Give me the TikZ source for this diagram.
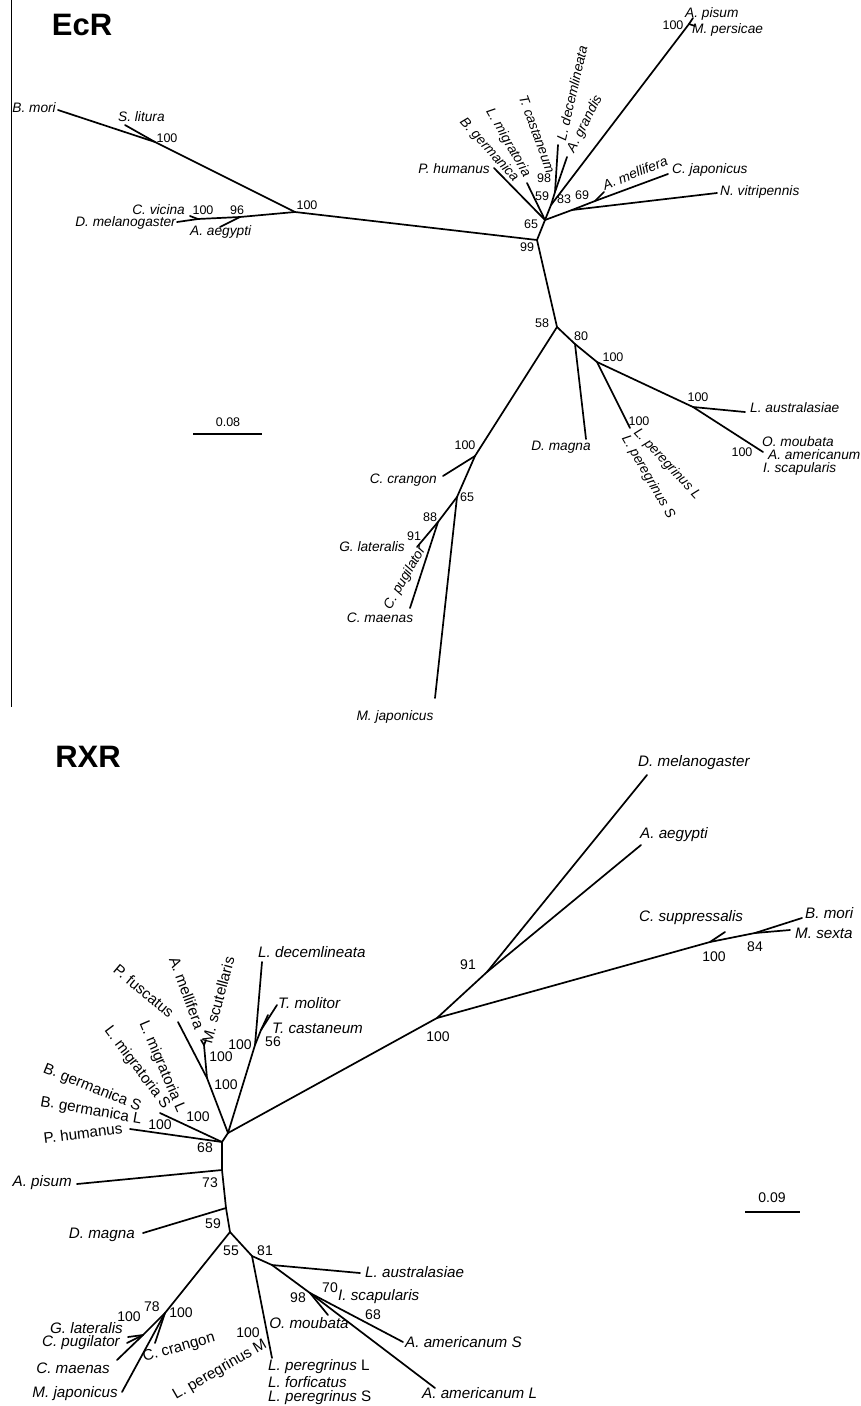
\documentclass[tikz,border=0pt]{standalone}
\usepackage{fontspec}
\setmainfont{Liberation Sans}
\newcommand\TopSp{\fontsize{13.7}{15}\selectfont\itshape}
\newcommand\TopNum{\fontsize{12.5}{14}\selectfont}
\newcommand\BotSp{\fontsize{15.2}{17}\selectfont\itshape}
\newcommand\BotUp{\fontsize{15.2}{17}\selectfont}
\newcommand\BotNum{\fontsize{14}{16}\selectfont}
\newcommand\TtlFont{\fontsize{31}{34}\selectfont\bfseries}
\begin{document}
\begin{tikzpicture}[x=1pt,y=-1pt,
 br/.style={line width=1.7pt,line cap=round,line join=round},
 thin/.style={line width=1.3pt},
 ts/.style={font=\TopSp,inner sep=0pt},
 tn/.style={font=\TopNum,inner sep=0pt},
 bs/.style={font=\BotSp,inner sep=0pt},
 bu/.style={font=\BotUp,inner sep=0pt},
 bn/.style={font=\BotNum,inner sep=0pt},
 ttl/.style={font=\TtlFont,inner sep=0pt}]
\useasboundingbox[fill=white] (0,0) rectangle (861,1406);
% left rule
\coordinate (vt) at (11.5,0);
\coordinate (vb) at (11.5,707);
\draw[thin] (vt) -- (vb);
% ================= EcR =================
\coordinate (eA100) at (295,212);
\coordinate (eBmori) at (58,110);
\coordinate (eS100) at (155,142);
\coordinate (eSlit) at (125,125);
\coordinate (eD96) at (240,217);
\coordinate (eAaeg) at (220,227);
\coordinate (eC100) at (198,219);
\coordinate (eDmel) at (177,222);
\coordinate (eCvic) at (190,216);
\coordinate (eN99) at (537,240);
\coordinate (eN65) at (545,220);
\coordinate (ePhum) at (494,168);
\coordinate (eLmig) at (527,183);
\coordinate (eN83) at (551,205);
\coordinate (eN98) at (555,192);
\coordinate (eLdec) at (558,145);
\coordinate (eAgra) at (567,157);
\coordinate (eApN) at (689,24);
\coordinate (eApis) at (693,18);
\coordinate (eMper) at (695,26);
\coordinate (eNH) at (572,210);
\coordinate (eNvit) at (717,193);
\coordinate (eN69) at (595,201);
\coordinate (eCjap) at (668,174);
\coordinate (eAmel) at (604,192);
\coordinate (eN58) at (557,327);
\coordinate (eN80) at (575,344);
\coordinate (eDmag) at (586,439);
\coordinate (eN100b) at (597,362);
\coordinate (eLper) at (630,428);
\coordinate (eN100c) at (693,407);
\coordinate (eLaus) at (745,412);
\coordinate (eOmou) at (763,452);
\coordinate (eN100d) at (475,456);
\coordinate (eCcra) at (443,476);
\coordinate (eN65b) at (457,497);
\coordinate (eMjap) at (435,698);
\coordinate (eN88) at (438,522);
\coordinate (eGlat) at (417,547);
\coordinate (eCmae) at (410,608);
\draw[br] (eA100) -- (eS100) -- (eBmori);
\draw[br] (eS100) -- (eSlit);
\draw[br] (eA100) -- (eD96) -- (eC100) -- (eDmel);
\draw[br] (eC100) -- (eCvic);
\draw[br] (eD96) -- (eAaeg);
\draw[br] (eA100) -- (eN99) -- (eN65) -- (ePhum);
\draw[br] (eN65) -- (eLmig);
\draw[br] (eN65) -- (eN83) -- (eN98) -- (eLdec);
\draw[br] (eN98) -- (eAgra);
\draw[br] (eN83) -- (eApN) -- (eApis);
\draw[br] (eApN) -- (eMper);
\draw[br] (eN65) -- (eNH) -- (eNvit);
\draw[br] (eNH) -- (eN69) -- (eCjap);
\draw[br] (eN69) -- (eAmel);
\draw[br] (eN99) -- (eN58) -- (eN80) -- (eDmag);
\draw[br] (eN80) -- (eN100b) -- (eLper);
\draw[br] (eN100b) -- (eN100c) -- (eLaus);
\draw[br] (eN100c) -- (eOmou);
\draw[br] (eN58) -- (eN100d) -- (eCcra);
\draw[br] (eN100d) -- (eN65b) -- (eMjap);
\draw[br] (eN65b) -- (eN88) -- (eGlat);
\draw[br] (eN88) -- (eCmae);
\coordinate (esA) at (193,434);
\coordinate (esB) at (262,434);
\draw[thin] (esA) -- (esB);
\node[ttl] (tEcR) at (82,25) {EcR};
\node[ts,anchor=east] (lBmori) at (56,108) {B. mori};
\node[ts,anchor=west] (lSlit) at (118,117) {S. litura};
\node[tn] (nS100) at (167,138) {100};
\node[ts,anchor=east] (lCvic) at (185,210) {C. vicina};
\node[tn] (nC100) at (203,210) {100};
\node[tn] (nD96) at (237,210) {96};
\node[ts,anchor=east] (lDmel) at (176,223) {D. melanogaster};
\node[ts,anchor=west] (lAaeg) at (190,232) {A. aegypti};
\node[tn] (nA100) at (307,205) {100};
\node[ts,anchor=east] (lPhum) at (490,169) {P. humanus};
\node[ts,rotate=-48] (lBger) at (489,150) {B. germanica};
\node[ts,rotate=-60] (lLmig) at (508,143) {L. migratoria};
\node[ts,rotate=-70] (lTcas) at (537,134) {T. castaneum};
\node[ts,rotate=77] (lLdec) at (572,93) {L. decemlineata};
\node[ts,rotate=63] (lAgra) at (585,124) {A. grandis};
\node[tn] (n98) at (544,178) {98};
\node[tn] (n59) at (542,196) {59};
\node[tn] (n83) at (564,199) {83};
\node[tn] (n69) at (582,195) {69};
\node[tn] (n65) at (531,224) {65};
\node[tn] (n99) at (527,247) {99};
\node[ts,rotate=22] (lAmel) at (635,173) {A. mellifera};
\node[ts,anchor=west] (lCjap) at (672,170) {C. japonicus};
\node[ts,anchor=west] (lNvit) at (720,192) {N. vitripennis};
\node[ts,anchor=west] (lApis) at (685,14) {A. pisum};
\node[ts,anchor=west] (lMper) at (692,30) {M. persicae};
\node[tn] (nAp100) at (673,25) {100};
\node[tn] (n58) at (542,323) {58};
\node[tn] (n80) at (581,336) {80};
\node[tn] (nb100) at (613,357) {100};
\node[tn] (nLp100) at (639,421) {100};
\node[ts,rotate=-47] (lLperL) at (667,464) {L. peregrinus L};
\node[ts,rotate=-60] (lLperS) at (648,477) {L. peregrinus S};
\node[tn] (nc100) at (698,397) {100};
\node[ts,anchor=west] (lLaus) at (750,408) {L. australasiae};
\node[tn] (nO100) at (742,452) {100};
\node[ts,anchor=west] (lOmou) at (762,442) {O. moubata};
\node[ts,anchor=west] (lAame) at (768,455) {A. americanum};
\node[ts,anchor=west] (lIsca) at (763,469) {I. scapularis};
\node[ts] (lDmag) at (561,447) {D. magna};
\node[tn] (nd100) at (465,445) {100};
\node[ts,anchor=east] (lCcra) at (437,480) {C. crangon};
\node[tn] (n65b) at (467,497) {65};
\node[tn] (n88) at (430,517) {88};
\node[tn] (n91) at (414,536) {91};
\node[ts,anchor=east] (lGlat) at (405,547) {G. lateralis};
\node[ts,rotate=60] (lCpug) at (405,578) {C. pugilator};
\node[ts] (lCmae) at (380,618) {C. maenas};
\node[ts] (lMjap) at (395,717) {M. japonicus};
\node[tn] (sc1) at (228,422) {0.08};
% ================= RXR =================
\coordinate (R0) at (228,1133);
\coordinate (Rm) at (437,1018);
\coordinate (R91) at (487,972);
\coordinate (RDmel) at (647,775);
\coordinate (RAaeg) at (641,845);
\coordinate (Rcs) at (710,942);
\coordinate (RCsup) at (725,932);
\coordinate (R84) at (755,933);
\coordinate (RBmori) at (802,918);
\coordinate (RMsex) at (790,930);
\coordinate (Rcol) at (255,1045);
\coordinate (RLdec) at (262,962);
\coordinate (R56) at (261,1030);
\coordinate (RTmol) at (277,1005);
\coordinate (RTcas) at (268,1015);
\coordinate (Rhy) at (207,1078);
\coordinate (RPfus) at (178,1022);
\coordinate (Ram) at (204,1045);
\coordinate (RAmel) at (201,1040);
\coordinate (RMscu) at (206,1040);
\coordinate (R68) at (222,1142);
\coordinate (RLmig) at (160,1113);
\coordinate (RPhum) at (130,1129);
\coordinate (R73) at (222,1170);
\coordinate (RApis) at (77,1184);
\coordinate (R59) at (226,1208);
\coordinate (RDmag) at (143,1233);
\coordinate (R55) at (230,1232);
\coordinate (RX) at (165,1313);
\coordinate (RMjap) at (122,1392);
\coordinate (RCcra) at (155,1343);
\coordinate (RGC) at (143,1335);
\coordinate (RCmae) at (117,1360);
\coordinate (RGlat) at (128,1337);
\coordinate (RCpug) at (127,1343);
\coordinate (R81) at (252,1256);
\coordinate (RLper) at (272,1358);
\coordinate (RLa) at (272,1265);
\coordinate (RLaus) at (360,1273);
\coordinate (R98) at (310,1293);
\coordinate (ROmou) at (328,1315);
\coordinate (RAamS) at (403,1342);
\coordinate (RAamL) at (435,1388);
\draw[br] (R0) -- (Rm) -- (R91) -- (RDmel);
\draw[br] (R91) -- (RAaeg);
\draw[br] (Rm) -- (Rcs) -- (R84) -- (RBmori);
\draw[br] (Rcs) -- (RCsup);
\draw[br] (R84) -- (RMsex);
\draw[br] (R0) -- (Rcol) -- (RLdec);
\draw[br] (Rcol) -- (R56) -- (RTmol);
\draw[br] (R56) -- (RTcas);
\draw[br] (R0) -- (Rhy) -- (RPfus);
\draw[br] (Rhy) -- (Ram) -- (RAmel);
\draw[br] (Ram) -- (RMscu);
\draw[br] (R0) -- (R68) -- (RLmig);
\draw[br] (R68) -- (RPhum);
\draw[br] (R68) -- (R73) -- (R59) -- (R55);
\draw[br] (R73) -- (RApis);
\draw[br] (R59) -- (RDmag);
\draw[br] (R55) -- (RX) -- (RMjap);
\draw[br] (RX) -- (RCcra);
\draw[br] (RX) -- (RGC) -- (RCmae);
\draw[br] (RGC) -- (RGlat);
\draw[br] (RGC) -- (RCpug);
\draw[br] (R55) -- (R81) -- (RLper);
\draw[br] (R81) -- (RLa) -- (RLaus);
\draw[br] (RLa) -- (R98) -- (ROmou);
\draw[br] (R98) -- (RAamS);
\draw[br] (R98) -- (RAamL);
\coordinate (rsA) at (745,1212);
\coordinate (rsB) at (800,1212);
\draw[thin] (rsA) -- (rsB);
\node[ttl] (tRXR) at (88,757) {RXR};
\node[bs,anchor=west] (rDmel) at (638,763) {D. melanogaster};
\node[bs,anchor=west] (rAaeg) at (640,835) {A. aegypti};
\node[bn] (r91) at (468,965) {91};
\node[bn] (r100m) at (438,1037) {100};
\node[bs,anchor=west] (rCsup) at (639,918) {C. suppressalis};
\node[bn] (r100cs) at (714,957) {100};
\node[bn] (r84) at (755,947) {84};
\node[bs,anchor=west] (rBmori) at (805,913) {B. mori};
\node[bs,anchor=west] (rMsex) at (795,933) {M. sexta};
\node[bs,anchor=west] (rLdec) at (258,952) {L. decemlineata};
\node[bs,anchor=west] (rTmol) at (278,1003) {T. molitor};
\node[bs,anchor=west] (rTcas) at (272,1028) {T. castaneum};
\node[bn] (r100col) at (240,1045) {100};
\node[bn] (r56) at (273,1042) {56};
\node[bu,rotate=-40] (rPfus) at (144,991) {P. fuscatus};
\node[bu,rotate=-70] (rAmel) at (187,993) {A. mellifera};
\node[bu,rotate=75] (rMscu) at (218,1000) {M. scutellaris};
\node[bn] (r100am) at (221,1057) {100};
\node[bn] (r100hy) at (226,1085) {100};
\node[bu,rotate=-67] (rLmigL) at (162,1067) {L. migratoria L};
\node[bu,rotate=-53] (rLmigS) at (137,1068) {L. migratoria S};
\node[bn] (r100lm) at (198,1117) {100};
\node[bu,rotate=-22] (rBgerS) at (92,1088) {B. germanica S};
\node[bu,rotate=-10] (rBgerL) at (91,1111) {B. germanica L};
\node[bn] (r100bg) at (160,1125) {100};
\node[bu,rotate=7] (rPhum) at (83,1133) {P. humanus};
\node[bn] (r68) at (205,1148) {68};
\node[bs,anchor=east] (rApis) at (72,1183) {A. pisum};
\node[bn] (r73) at (210,1183) {73};
\node[bs,anchor=east] (rDmag) at (135,1235) {D. magna};
\node[bn] (r59) at (213,1224) {59};
\node[bn] (r55) at (231,1251) {55};
\node[bn] (r81) at (265,1251) {81};
\node[bs,anchor=west] (rLaus) at (365,1272) {L. australasiae};
\node[bn] (r98) at (298,1298) {98};
\node[bn] (r70) at (330,1288) {70};
\node[bs,anchor=west] (rIsca) at (338,1297) {I. scapularis};
\node[bn] (r68b) at (373,1315) {68};
\node[bs] (rOmou) at (309,1323) {O. moubata};
\node[bs,anchor=west] (rAamS) at (405,1342) {A. americanum S};
\node[bs,anchor=west] (rAamL) at (422,1393) {A. americanum L};
\node[bn] (r100lp) at (248,1333) {100};
\node[bu,rotate=30] (rLperM) at (220,1370) {L. peregrinus M};
\node[bs,anchor=west] (rLperL) at (268,1367) {L. peregrinus \textup{L}};
\node[bs,anchor=west] (rLfor) at (268,1382) {L. forficatus};
\node[bs,anchor=west] (rLperS) at (268,1398) {L. peregrinus \textup{S}};
\node[bn] (r78) at (152,1307) {78};
\node[bn] (r100gc) at (129,1317) {100};
\node[bn] (r100cc) at (181,1313) {100};
\node[bu,rotate=16] (rCcra) at (179,1348) {C. crangon};
\node[bs,anchor=east] (rGlat) at (123,1328) {G. lateralis};
\node[bs,anchor=east] (rCpug) at (120,1343) {C. pugilator};
\node[bs,anchor=east] (rCmae) at (110,1368) {C. maenas};
\node[bs,anchor=east] (rMjap) at (118,1394) {M. japonicus};
\node[bn] (rsc) at (772,1198) {0.09};
\end{tikzpicture}
\end{document}
